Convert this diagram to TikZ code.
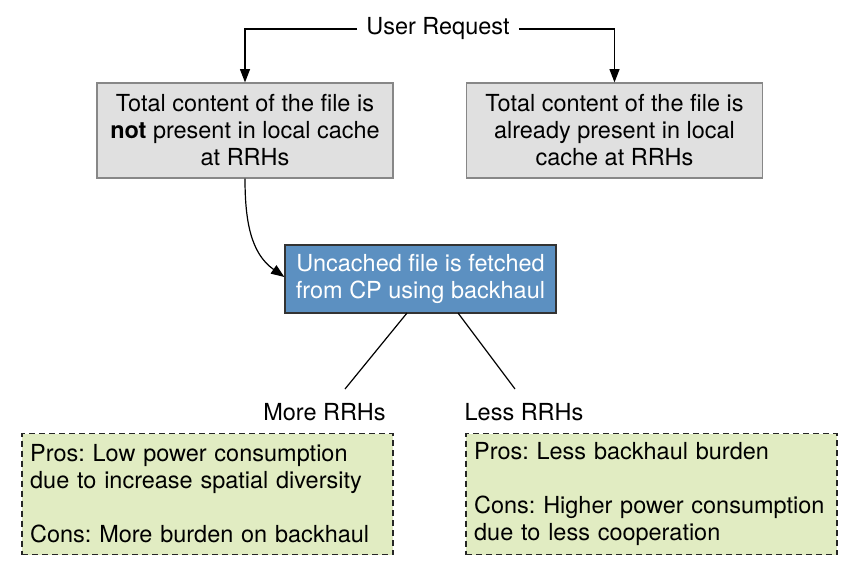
\documentclass[tikz,border=0pt]{standalone}
\usepackage{fontspec}
\setmainfont{TeX Gyre Heros}
\usepackage{tikz}
\usetikzlibrary{arrows, arrows.meta, positioning}

\definecolor{cachefill}{RGB}{224,224,224}
\definecolor{cacheedge}{RGB}{135,135,135}
\definecolor{fetchfill}{RGB}{92,144,193}
\definecolor{notefill}{RGB}{225,236,194}

\frenchspacing
\begin{document}
\begin{tikzpicture}[x=0.75pt,y=-0.75pt,->,>={Triangle[length=10pt,width=7.5pt]},
                    line width=0.9pt,font=\fontsize{17.6}{20.25}\selectfont]
  \tikzstyle{cache}=[draw=cacheedge,fill=cachefill,minimum width=222pt,
                     minimum height=71.25pt,align=center,inner sep=0pt]
  \tikzstyle{fetch}=[draw=black!80,fill=fetchfill,text=white,minimum width=203.25pt,
                     minimum height=51pt,align=center,inner sep=0pt]
  \tikzstyle{note}=[draw=black!85,dash pattern=on 4.5pt off 3pt,fill=notefill,
                    minimum width=278.25pt,minimum height=90.75pt,text width=266pt,
                    align=left,inner xsep=6pt,inner ysep=0pt]
  \useasboundingbox (0,0) rectangle (853,575);

  \node[inner xsep=6.5pt]  (req)   at (438,29)    {User Request};
  \node[cache]             (notin) at (245,130.5) {Total content of the file is\\
                                                   \textbf{not} present in local cache\\
                                                   at RRHs};
  \node[cache]             (isin)  at (614.5,130.5) {Total content of the file is\\
                                                   already present in local\\
                                                   cache at RRHs};
  \node[fetch]             (fetch) at (420.5,279) {Uncached file is fetched\\
                                                   from CP using backhaul};
  \node                    (more)  at (324.5,412) {More RRHs};
  \node                    (less)  at (524,412)   {Less RRHs};
  \node[note]              (pmore) at (207.5,494) {Pros: Low power consumption\\
                                                   due to increase spatial diversity\\[20.25pt]
                                                   Cons: More burden on backhaul};
  \node[note]              (pless) at (651.5,494) {Pros: Less backhaul burden\\[20.25pt]
                                                   Cons: Higher power consumption\\
                                                   due to less cooperation};

  \coordinate (fm) at (407,313);
  \coordinate (fl) at (458,313);
  \coordinate (em) at (345,389);
  \coordinate (el) at (515,389);

  \draw (req.west) -| (notin.north);
  \draw (req.east) -| (isin.north);
  \draw (notin.south) to[out=-90,in=145] ([yshift=1.5pt]fetch.west);
  \draw[-] (fm) -- (em);
  \draw[-] (fl) -- (el);
\end{tikzpicture}
\end{document}
